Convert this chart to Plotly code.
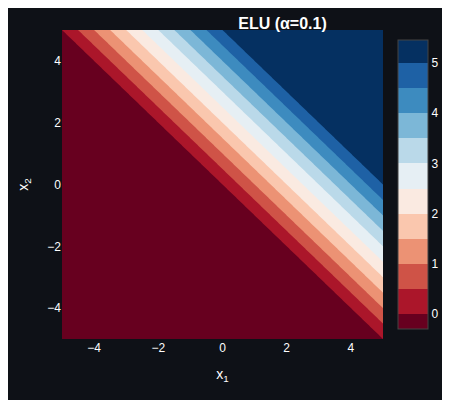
import numpy as np
import plotly.graph_objects as go

alpha = 0.1
x1 = np.linspace(-5, 5, 201)
x2 = np.linspace(-5, 5, 201)
X1, X2 = np.meshgrid(x1, x2)
S = X1 + X2
Z = np.where(S > 0, S, alpha * (np.exp(S) - 1))

fig = go.Figure(go.Contour(
    x=x1, y=x2, z=Z, colorscale="RdBu", reversescale=False,
    zmin=-0.3, zmax=5.46,
    contours=dict(start=0, end=5, size=0.5, coloring="fill", showlines=False),
    colorbar=dict(tickfont=dict(color="white", size=12), outlinecolor="#444", outlinewidth=1,
                  len=1, thickness=30, x=1.015, xanchor="left", tickvals=[0,1,2,3,4,5]),
))
fig.update_layout(
    width=450, height=400,
    paper_bgcolor="#0e1117", plot_bgcolor="#0e1117",
    margin=dict(l=54, r=43, t=22, b=69),
    title=dict(text="<b>ELU (α=0.1)</b>", x=0.61, y=0.975, font=dict(color="white", size=16)),
    font=dict(color="white", family="Liberation Sans, Arial"),
    xaxis=dict(title=dict(text="x<sub>1</sub>"), showgrid=False, zeroline=False, tickvals=[-4,-2,0,2,4]),
    yaxis=dict(title=dict(text="x<sub>2</sub>"), showgrid=False, zeroline=False, tickvals=[-4,-2,0,2,4]),
)
fig.write_html("out.html")
